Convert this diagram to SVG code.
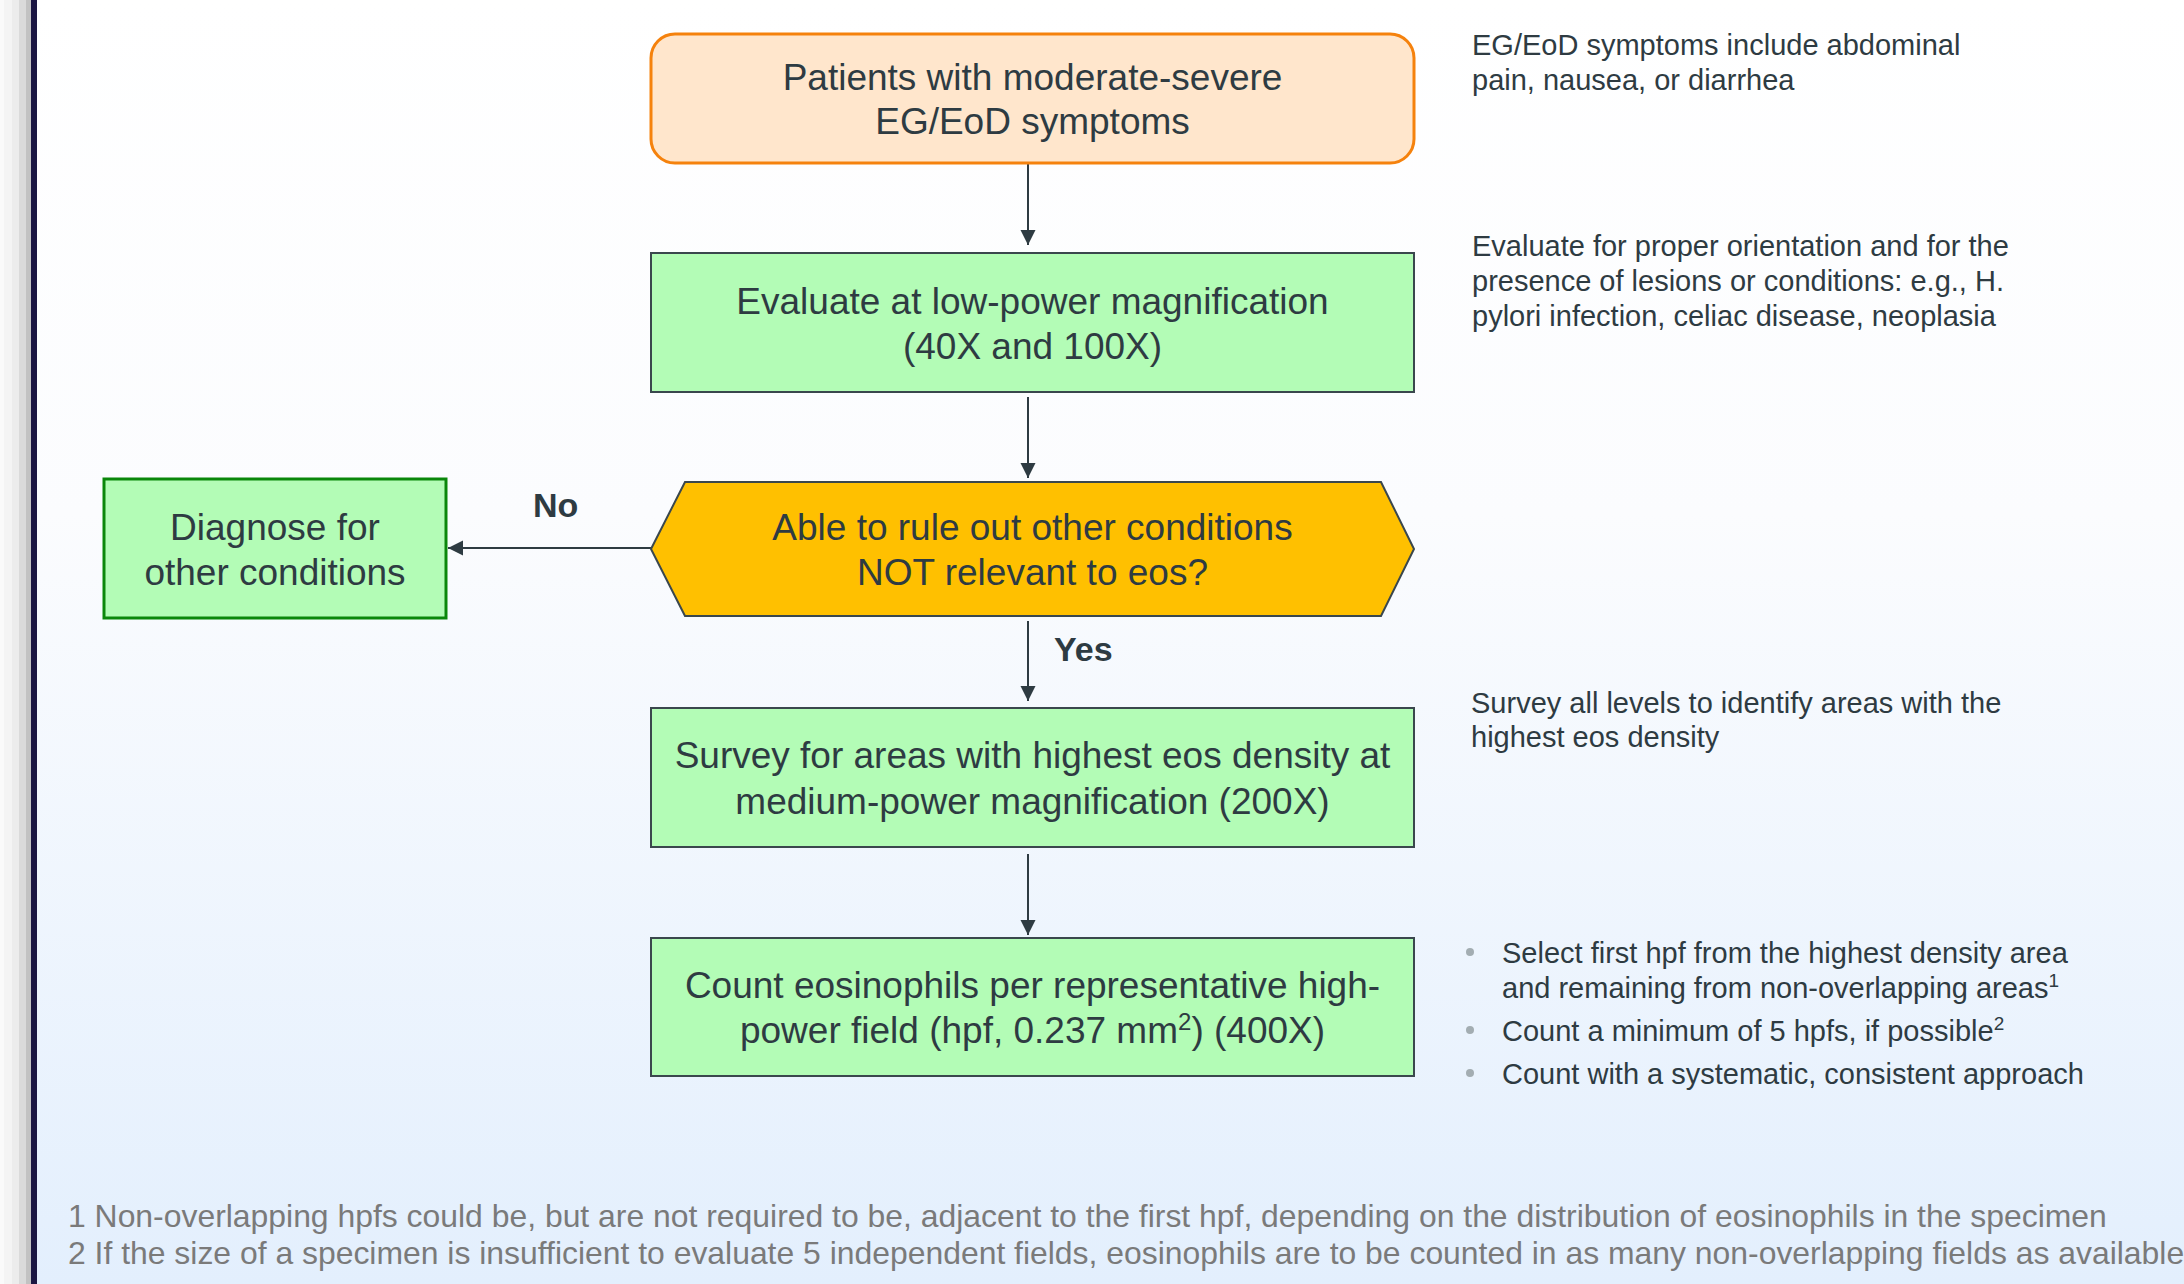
<svg xmlns="http://www.w3.org/2000/svg" width="2184" height="1284" viewBox="0 0 2184 1284">
<defs>
<linearGradient id="bg" x1="0" y1="0" x2="0" y2="1">
<stop offset="0" stop-color="#ffffff"/>
<stop offset="0.4" stop-color="#fbfcfe"/>
<stop offset="1" stop-color="#e3effd"/>
</linearGradient>
<marker id="ah" markerUnits="userSpaceOnUse" markerWidth="16" markerHeight="16" viewBox="0 0 16 16" refX="15" refY="8" orient="auto">
<path d="M0,0.5 L15,8 L0,15.5 Z" fill="#2e3b42"/>
</marker>
<style>
.t{font-family:"Liberation Sans",Arial,sans-serif;fill:#2e3b42}
.m{font-size:37px;text-anchor:middle}
.a{font-size:29px}
.b{font-size:34px;font-weight:bold}
.f{font-family:"Liberation Sans",Arial,sans-serif;font-size:31.9px;fill:#7a7a7a}
.g{fill:#b3fcb6;stroke:#3a474d;stroke-width:2}
.c{stroke:#2e3b42;stroke-width:2;fill:none;marker-end:url(#ah)}
.dot{fill:#a3adb2}
</style>
</defs>
<rect x="0" y="0" width="2184" height="1284" fill="url(#bg)"/>
<rect x="0" y="0" width="4" height="1284" fill="#fafafa"/>
<rect x="4" y="0" width="8" height="1284" fill="#f4f4f4"/>
<rect x="12" y="0" width="7" height="1284" fill="#ececec"/>
<rect x="19" y="0" width="7" height="1284" fill="#dadada"/>
<rect x="26" y="0" width="5" height="1284" fill="#c2c2c2"/>
<rect x="31" y="0" width="6" height="1284" fill="#1b1642"/>

<g id="connectors">
<line class="c" x1="1028" y1="163" x2="1028" y2="245"/>
<line class="c" x1="1028" y1="397" x2="1028" y2="478"/>
<line class="c" x1="1028" y1="621" x2="1028" y2="701"/>
<line class="c" x1="1028" y1="854" x2="1028" y2="935"/>
<line class="c" x1="651" y1="548" x2="448" y2="548"/>
<text class="t b" x="533" y="517">No</text>
<text class="t b" x="1054" y="661">Yes</text>
</g>

<g id="start">
<rect x="651" y="34" width="763" height="129" rx="24" ry="24" fill="#ffe6cc" stroke="#f5820d" stroke-width="3"/>
<text class="t m" x="1032.5" y="90">Patients with moderate-severe</text>
<text class="t m" x="1032.5" y="134">EG/EoD symptoms</text>
</g>

<g id="evaluate">
<rect class="g" x="651" y="253" width="763" height="139"/>
<text class="t m" x="1032.5" y="314">Evaluate at low-power magnification</text>
<text class="t m" x="1032.5" y="359">(40X and 100X)</text>
</g>

<g id="decision">
<polygon points="651,549 685,482 1381,482 1414,549 1381,616 685,616" fill="#ffc000" stroke="#3a474d" stroke-width="2"/>
<text class="t m" x="1032.5" y="540">Able to rule out other conditions</text>
<text class="t m" x="1032.5" y="585">NOT relevant to eos?</text>
</g>

<g id="diagnose">
<rect x="104" y="479" width="342" height="139" fill="#b3fcb6" stroke="#0a870a" stroke-width="3"/>
<text class="t m" x="275" y="540">Diagnose for</text>
<text class="t m" x="275" y="585">other conditions</text>
</g>

<g id="survey">
<rect class="g" x="651" y="708" width="763" height="139"/>
<text class="t m" x="1032.5" y="768">Survey for areas with highest eos density at</text>
<text class="t m" x="1032.5" y="814">medium-power magnification (200X)</text>
</g>

<g id="count">
<rect class="g" x="651" y="938" width="763" height="138"/>
<text class="t m" x="1032.5" y="998">Count eosinophils per representative high-</text>
<text class="t m" x="1032.5" y="1043">power field (hpf, 0.237 mm<tspan font-size="24" dy="-13">2</tspan><tspan dy="13">) (400X)</tspan></text>
</g>

<g id="notes">
<text class="t a" x="1472" y="55">EG/EoD symptoms include abdominal</text>
<text class="t a" x="1472" y="90">pain, nausea, or diarrhea</text>
<text class="t a" x="1472" y="256">Evaluate for proper orientation and for the</text>
<text class="t a" x="1472" y="291">presence of lesions or conditions: e.g., H.</text>
<text class="t a" x="1472" y="326">pylori infection, celiac disease, neoplasia</text>
<text class="t a" x="1471" y="713">Survey all levels to identify areas with the</text>
<text class="t a" x="1471" y="747">highest eos density</text>
<circle class="dot" cx="1470" cy="952" r="4"/>
<circle class="dot" cx="1470" cy="1030" r="4"/>
<circle class="dot" cx="1470" cy="1073" r="4"/>
<text class="t a" x="1502" y="963">Select first hpf from the highest density area</text>
<text class="t a" x="1502" y="998">and remaining from non-overlapping areas<tspan font-size="19" dy="-11">1</tspan></text>
<text class="t a" x="1502" y="1041">Count a minimum of 5 hpfs, if possible<tspan font-size="19" dy="-11">2</tspan></text>
<text class="t a" x="1502" y="1084">Count with a systematic, consistent approach</text>
</g>

<g id="footnotes">
<text class="f" x="68" y="1227">1 Non-overlapping hpfs could be, but are not required to be, adjacent to the first hpf, depending on the distribution of eosinophils in the specimen</text>
<text class="f" x="68" y="1264">2 If the size of a specimen is insufficient to evaluate 5 independent fields, eosinophils are to be counted in as many non-overlapping fields as available</text>
</g>
</svg>
